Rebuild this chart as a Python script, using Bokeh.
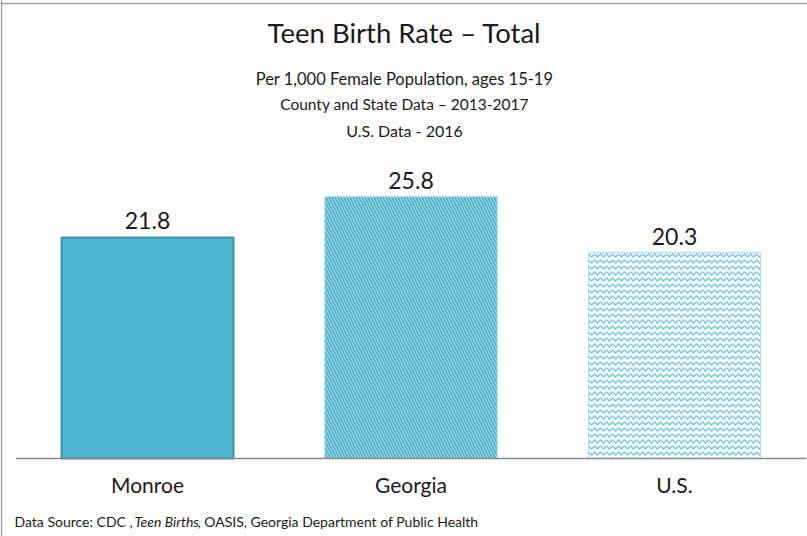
from bokeh.plotting import figure
from bokeh.models import Range1d, ColumnDataSource, Span
from bokeh.core.properties import value
from bokeh.embed import file_html
from bokeh.resources import INLINE

categories = ["Monroe", "Georgia", "U.S."]
rates = [21.8, 25.8, 20.3]
rate_labels = ["21.8", "25.8", "20.3"]
title_text = "Teen Birth Rate \u2013 Total"
subtitles = ["Per 1,000 Female Population, ages 15-19",
             "County and State Data \u2013 2013-2017",
             "U.S. Data - 2016"]

W, H = 807, 536
FONT = "Lato"
TXT = "#1a1a1a"

# pixel geometry of the frame (frame covers whole canvas)
x0_px, x_step = 147.0, 263.5
base_px, y_scale = 458.0, 10.14
x_start = -x0_px / x_step
x_end = (W - x0_px) / x_step
y_end = base_px / y_scale
y_start = -(H - base_px) / y_scale


def px_x(px):
    return x_start + px / x_step


def px_y(py):
    return y_end - py / y_scale


p = figure(width=W, height=H, output_backend="svg", toolbar_location=None,
           x_range=Range1d(x_start, x_end), y_range=Range1d(y_start, y_end),
           min_border=0, min_border_left=0, min_border_right=0,
           min_border_top=0, min_border_bottom=0)
p.axis.visible = False
p.grid.visible = False
p.outline_line_color = None
p.background_fill_color = "white"
p.border_fill_color = "white"

xs = list(range(len(categories)))
bw = 172 / x_step

# Monroe: solid bevelled bar
p.vbar(x=[xs[0]], top=[rates[0]], bottom=0, width=bw,
       fill_color="#4fb5d0", line_color="#3a93ab", line_width=2)
# Georgia: diagonal stripes
p.vbar(x=[xs[1]], top=[rates[1]], bottom=0, width=bw,
       fill_color="#e6f6fb", line_color="#86c9dc", line_width=1,
       hatch_pattern="left_diagonal_line", hatch_color="#47afcb",
       hatch_scale=6, hatch_weight=2)
# U.S.: wave pattern
p.vbar(x=[xs[2]], top=[rates[2]], bottom=0, width=bw,
       fill_color="#f7fcfe", line_color="#a9dbe8", line_width=1,
       hatch_pattern="horizontal_wave", hatch_color="#5dbfd9",
       hatch_scale=6, hatch_weight=1.2)

# baseline
p.segment(x0=[-0.5], y0=[0], x1=[len(categories) - 0.5], y1=[0],
          line_color="#8c8c8c", line_width=1.5)

# borders (left & top)
p.add_layout(Span(location=px_x(1), dimension="height", line_color="#a0a0a0", line_width=1.5))
p.add_layout(Span(location=px_y(3), dimension="width", line_color="#a0a0a0", line_width=1.5))

# value labels
vsrc = ColumnDataSource(dict(x=xs, y=rates, t=rate_labels))
p.text(x="x", y="y", text="t", source=vsrc, text_align="center",
       text_baseline="bottom", y_offset=-8, text_font=value(FONT),
       text_font_size="23px", text_color=TXT)

# category labels
csrc = ColumnDataSource(dict(x=xs, y=[0] * len(xs), t=categories))
p.text(x="x", y="y", text="t", source=csrc, text_align="center",
       text_baseline="middle", y_offset=26, text_font=value(FONT),
       text_font_size="21px", text_color=TXT)

cx = px_x(404)
p.text(x=[cx], y=[px_y(32)], text=[title_text], text_align="center",
       text_baseline="middle", text_font=value(FONT), text_font_size="27.5px",
       text_color=TXT)
p.text(x=[cx], y=[px_y(78)], text=[subtitles[0]], text_align="center",
       text_baseline="middle", text_font=value(FONT), text_font_size="16.5px",
       text_color=TXT)
p.text(x=[cx], y=[px_y(103)], text=[subtitles[1]], text_align="center",
       text_baseline="middle", text_font=value(FONT), text_font_size="15.5px",
       text_color=TXT)
p.text(x=[cx], y=[px_y(130)], text=[subtitles[2]], text_align="center",
       text_baseline="middle", text_font=value(FONT), text_font_size="16px",
       text_color=TXT)

# data source line
sy = px_y(521)
p.text(x=[px_x(14)], y=[sy], text=["Data Source:  CDC , "], text_align="left",
       text_baseline="middle", text_font=value(FONT), text_font_size="14px",
       text_color=TXT)
p.text(x=[px_x(134)], y=[sy], text=["Teen Births"], text_align="left",
       text_baseline="middle", text_font=value(FONT), text_font_size="14px",
       text_font_style="italic", text_color=TXT)
p.text(x=[px_x(197)], y=[sy], text=[", OASIS, Georgia Department of Public Health"],
       text_align="left", text_baseline="middle", text_font=value(FONT),
       text_font_size="14px", text_color=TXT)

open("out.html", "w").write(file_html(p, INLINE))
